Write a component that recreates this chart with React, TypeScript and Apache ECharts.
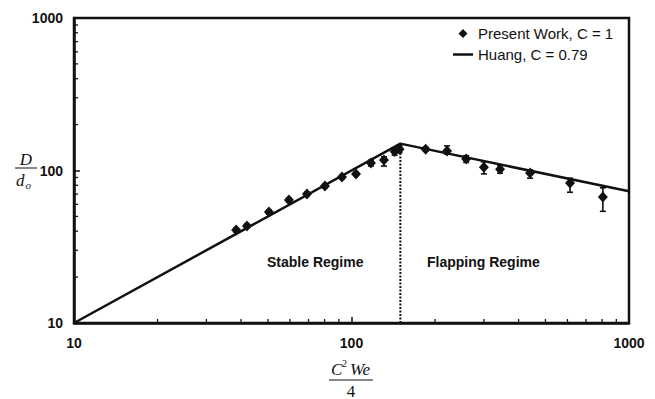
import React, { useEffect, useRef } from "react";
import * as echarts from "echarts";

// Measured drop sizes (Present Work, C = 1)
const workX = [38.4, 42.0, 50.4, 59.5, 69.1, 80.2, 92.4, 103.8, 117.5, 130.9, 143, 149, 185, 221, 259, 300, 343, 440, 613, 805];
const workY = [40.7, 43.3, 53.4, 64.1, 70.2, 79.1, 90.6, 94.9, 112, 117, 133, 138, 138, 134, 119, 105, 102, 96.4, 82.8, 67.0];
const errLow = [39.5, 42.0, 52.0, 62.0, 68.5, 77.0, 88.0, 92.5, 107, 107, 126, 131, 134, 128, 113, 95, 96, 89, 72, 54];
const errHigh = [42.0, 44.5, 55.0, 66.0, 72.0, 81.0, 93.0, 97.5, 117, 123, 140, 145, 142, 145, 125, 114, 108, 101, 89, 77];

// Huang correlation, C = 0.79
const huangX = [10, 150, 1000];
const huangY = [10, 150, 73];

// Regime transition
const transitionX = 150;
const transitionY = [10, 150];

// Axis range and minor tick values
const axisMin = 10;
const axisMax = 1000;
const xMinorTicks = [20, 30, 40, 50, 60, 70, 80, 90, 200, 300, 400, 500, 600, 700, 800, 900];
const yMinorTicks = [20, 30, 40, 50, 60, 70, 80, 90, 200, 300, 400, 500, 600, 700, 800, 900];

const SANS = '"Liberation Sans", Arial, Helvetica, sans-serif';
const SERIF = '"Liberation Serif", "Times New Roman", serif';
const INK = "#111";

// legend glyphs: a small centred diamond and a thick line, both in a 20x9 box
const DIAMOND_ICON = "path://M10,0L14.5,4.5L10,9L5.5,4.5Z M0,4.5L0.01,4.5 M19.99,4.5L20,4.5";
const LINE_ICON = "path://M0,0H20V2.5H0Z";

export default function App() {
  const ref = useRef<HTMLDivElement>(null);

  useEffect(() => {
    document.body.style.margin = "0";
    const chart = echarts.init(ref.current!, null, { renderer: "svg" });

    const tickLabel = {
      fontFamily: SANS,
      fontSize: 14,
      fontWeight: "bold",
      color: INK,
      formatter: (v: number) => String(Math.round(v)),
    };

    const option: any = {
      animation: false,
      backgroundColor: "#fff",
      grid: {
        left: 74,
        right: 26,
        top: 18,
        bottom: 76,
        show: true,
        borderColor: INK,
        borderWidth: 2.5,
        backgroundColor: "transparent",
      },
      legend: {
        orient: "vertical",
        left: 453,
        top: 26,
        padding: 0,
        itemWidth: 20,
        itemHeight: 9,
        itemGap: 6,
        textStyle: { fontFamily: SANS, fontSize: 15, color: INK },
        data: [
          { name: "Present Work, C = 1", icon: DIAMOND_ICON, itemStyle: { color: INK, opacity: 1 } },
          { name: "Huang, C = 0.79", icon: LINE_ICON, itemStyle: { color: INK } },
        ],
      },
      xAxis: {
        type: "log",
        logBase: 10,
        min: axisMin,
        max: axisMax,
        axisLine: { show: true, lineStyle: { color: INK, width: 2.5 } },
        axisTick: { show: true, inside: true, length: 6, lineStyle: { color: INK, width: 1.5 } },
        splitLine: { show: false },
        axisLabel: { ...tickLabel, margin: 13 },
      },
      yAxis: {
        type: "log",
        logBase: 10,
        min: axisMin,
        max: axisMax,
        axisLine: { show: true, lineStyle: { color: INK, width: 2.5 } },
        axisTick: { show: true, inside: true, length: 6, lineStyle: { color: INK, width: 1.5 } },
        splitLine: { show: false },
        axisLabel: { ...tickLabel, margin: 11 },
      },
      series: [
        {
          name: "xMinorTicks",
          type: "custom",
          silent: true,
          data: xMinorTicks.map((v) => [v, axisMin]),
          renderItem: (_p: any, api: any) => {
            const pt = api.coord([api.value(0), api.value(1)]);
            return {
              type: "line",
              shape: { x1: pt[0], y1: pt[1], x2: pt[0], y2: pt[1] - 4 },
              style: { stroke: INK, lineWidth: 1.3 },
            };
          },
        },
        {
          name: "yMinorTicks",
          type: "custom",
          silent: true,
          data: yMinorTicks.map((v) => [axisMin, v]),
          renderItem: (_p: any, api: any) => {
            const pt = api.coord([api.value(0), api.value(1)]);
            return {
              type: "line",
              shape: { x1: pt[0], y1: pt[1], x2: pt[0] + 4, y2: pt[1] },
              style: { stroke: INK, lineWidth: 1.3 },
            };
          },
        },
        {
          name: "Regime transition",
          type: "line",
          symbol: "none",
          silent: true,
          data: transitionY.map((y) => [transitionX, y]),
          lineStyle: { color: INK, width: 2, type: [2, 1.5] },
          z: 2,
        },
        {
          name: "Huang, C = 0.79",
          type: "line",
          symbol: "none",
          data: huangX.map((x, i) => [x, huangY[i]]),
          lineStyle: { color: INK, width: 2.5 },
          itemStyle: { color: INK },
          z: 3,
        },
        {
          name: "Error bars",
          type: "custom",
          silent: true,
          data: workX.map((x, i) => [x, errLow[i], errHigh[i]]),
          encode: { x: 0, y: [1, 2] },
          renderItem: (_p: any, api: any) => {
            const x = api.value(0);
            const lo = api.coord([x, api.value(1)]);
            const hi = api.coord([x, api.value(2)]);
            const cap = 3;
            const style = { stroke: INK, lineWidth: 1.6 };
            return {
              type: "group",
              children: [
                { type: "line", shape: { x1: lo[0], y1: lo[1], x2: hi[0], y2: hi[1] }, style },
                { type: "line", shape: { x1: lo[0] - cap, y1: lo[1], x2: lo[0] + cap, y2: lo[1] }, style },
                { type: "line", shape: { x1: hi[0] - cap, y1: hi[1], x2: hi[0] + cap, y2: hi[1] }, style },
              ],
            };
          },
          z: 4,
        },
        {
          name: "Present Work, C = 1",
          type: "scatter",
          symbol: "diamond",
          symbolSize: [10, 11],
          data: workX.map((x, i) => [x, workY[i]]),
          itemStyle: { color: INK, opacity: 1 },
          z: 5,
        },
      ],
      graphic: [
        // regime labels
        {
          type: "text",
          left: 267,
          top: 255,
          style: { text: "Stable Regime", font: `bold 14px ${SANS}`, fill: INK },
        },
        {
          type: "text",
          left: 427,
          top: 255,
          style: { text: "Flapping Regime", font: `bold 14px ${SANS}`, fill: INK },
        },
        // x axis title: C^2 We / 4
        {
          type: "group",
          children: [
            {
              type: "text",
              x: 331,
              y: 369,
              style: { text: "C", font: `italic 17px ${SERIF}`, fill: INK, textVerticalAlign: "middle" },
            },
            {
              type: "text",
              x: 342,
              y: 363,
              style: { text: "2", font: `10px ${SERIF}`, fill: INK, textVerticalAlign: "middle" },
            },
            {
              type: "text",
              x: 350,
              y: 369,
              style: { text: "We", font: `italic 17px ${SERIF}`, fill: INK, textVerticalAlign: "middle" },
            },
            {
              type: "line",
              shape: { x1: 329, y1: 380, x2: 373, y2: 380 },
              style: { stroke: INK, lineWidth: 1 },
            },
            {
              type: "text",
              x: 351,
              y: 391,
              style: { text: "4", font: `17px ${SERIF}`, fill: INK, textAlign: "center", textVerticalAlign: "middle" },
            },
          ],
        },
        // y axis title: D / d_o
        {
          type: "group",
          children: [
            {
              type: "text",
              x: 26,
              y: 159,
              style: { text: "D", font: `italic 17px ${SERIF}`, fill: INK, textAlign: "center", textVerticalAlign: "middle" },
            },
            {
              type: "line",
              shape: { x1: 15, y1: 168, x2: 37, y2: 168 },
              style: { stroke: INK, lineWidth: 1 },
            },
            {
              type: "text",
              x: 16,
              y: 180,
              style: { text: "d", font: `italic 17px ${SERIF}`, fill: INK, textVerticalAlign: "middle" },
            },
            {
              type: "text",
              x: 25.5,
              y: 185,
              style: { text: "o", font: `italic 11px ${SERIF}`, fill: INK, textVerticalAlign: "middle" },
            },
          ],
        },
      ],
    };

    chart.setOption(option);
    return () => chart.dispose();
  }, []);

  return <div ref={ref} style={{ width: 655, height: 399 }} />;
}
